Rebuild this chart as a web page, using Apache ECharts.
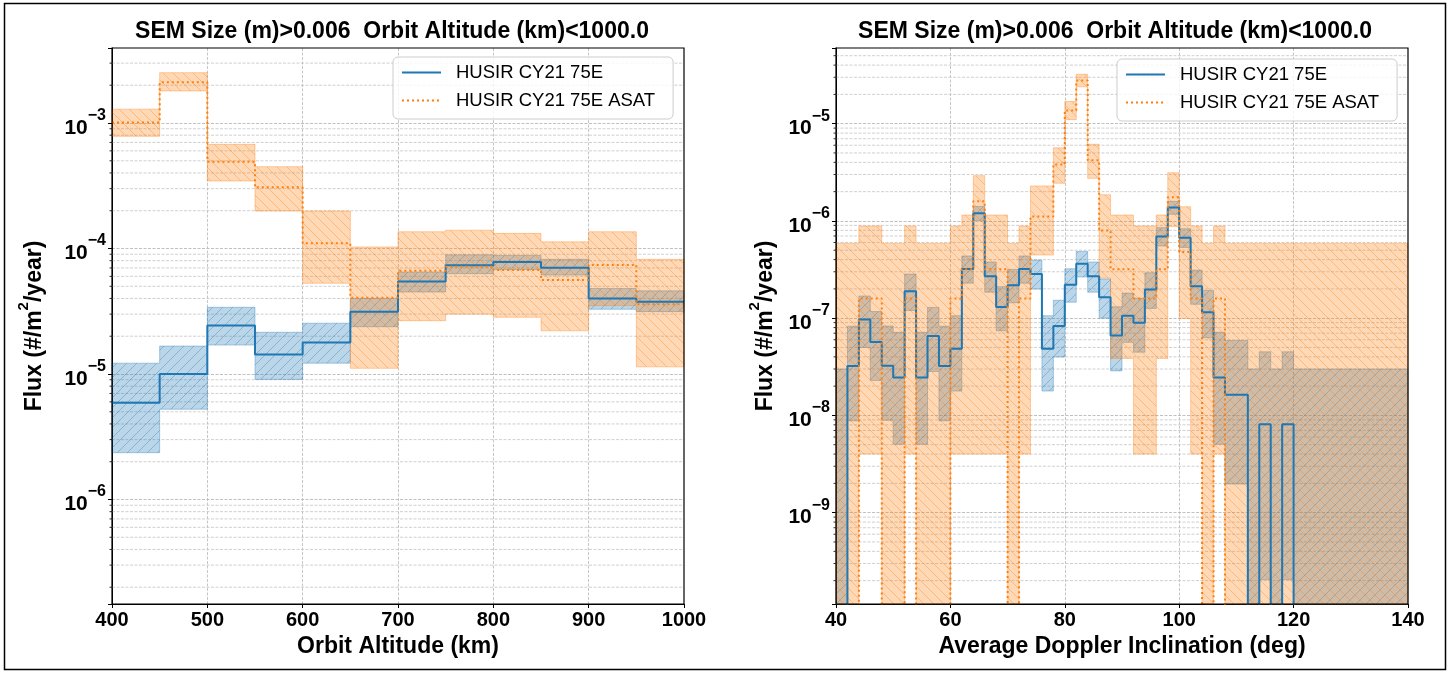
<!DOCTYPE html>
<html>
<head>
<meta charset="utf-8">
<title>SEM flux vs altitude and inclination</title>
<script src="https://cdn.jsdelivr.net/npm/echarts@6/dist/echarts.min.js"></script>
<style>
  html, body { margin: 0; padding: 0; background: #fff; }
  #chart { width: 1450px; height: 673px; }
</style>
</head>
<body>
<div id="chart"></div>
<script>
// ---------------- Panel 1: flux vs orbit altitude (50 km bins) ----------------
const altEdges = [400, 450, 500, 550, 600, 650, 700, 750, 800, 850, 900, 950, 1000];
const altFlux   = [5.9e-6, 1.0e-5, 2.43e-5, 1.43e-5, 1.78e-5, 3.14e-5, 5.45e-5, 7.35e-5, 7.8e-5, 7.03e-5, 4.0e-5, 3.77e-5];
const altFluxLo = [2.36e-6, 5.24e-6, 1.70e-5, 9.06e-6, 1.22e-5, 2.38e-5, 4.5e-5, 6.3e-5, 6.8e-5, 6.15e-5, 3.28e-5, 3.14e-5];
const altFluxHi = [1.22e-5, 1.67e-5, 3.4e-5, 2.15e-5, 2.54e-5, 4.0e-5, 6.5e-5, 8.9e-5, 8.8e-5, 8.2e-5, 4.8e-5, 4.6e-5];
const altAsat   = [1.01e-3, 2.11e-3, 4.92e-4, 3.07e-4, 1.1e-4, 4.05e-5, 6.65e-5, 7.16e-5, 6.75e-5, 5.6e-5, 7.4e-5, 3.6e-5];
const altAsatLo = [7.83e-4, 1.80e-3, 3.45e-4, 1.99e-4, 5.28e-5, 1.11e-5, 2.66e-5, 3.0e-5, 2.83e-5, 2.21e-5, 3.5e-5, 1.14e-5];
const altAsatHi = [1.29e-3, 2.52e-3, 6.76e-4, 4.49e-4, 1.99e-4, 1.03e-4, 1.36e-4, 1.40e-4, 1.32e-4, 1.13e-4, 1.36e-4, 8.2e-5];

// ---------------- Panel 2: flux vs average Doppler inclination (2 deg bins) ----------------
const incEdges = [40, 42, 44, 46, 48, 50, 52, 54, 56, 58, 60, 62, 64, 66, 68, 70, 72, 74, 76, 78,
                  80, 82, 84, 86, 88, 90, 92, 94, 96, 98, 100, 102, 104, 106, 108, 110, 112, 114, 116, 118,
                  120, 122, 124, 126, 128, 130, 132, 134, 136, 138, 140];
const incFlux = [0, 3.23e-8, 9.7e-8, 5.7e-8, 3.25e-8, 2.45e-8, 1.89e-7, 2.45e-8, 6.55e-8, 3.23e-8,
                 4.85e-8, 3.2e-7, 1.2e-6, 2.69e-7, 1.3e-7, 2.18e-7, 3.2e-7, 2.85e-7, 4.85e-8, 8.3e-8,
                 2.21e-7, 3.63e-7, 2.69e-7, 1.64e-7, 6.65e-8, 1.06e-7, 8.96e-8, 1.97e-7, 6.9e-7, 1.37e-6,
                 6.7e-7, 2.13e-7, 1.15e-7, 2.45e-8, 1.63e-8, 1.63e-8, 0, 8.1e-9, 0, 8.1e-9,
                 0, 0, 0, 0, 0, 0, 0, 0, 0, 0];
const incFluxLo = [0, 8.8e-9, 5.0e-8, 2.29e-8, 8.9e-9, 5.05e-9, 1.2e-7, 5.05e-9, 2.83e-8, 8.8e-9,
                   1.78e-8, 2.29e-7, 1.01e-6, 1.85e-7, 7.43e-8, 1.44e-7, 2.29e-7, 1.99e-7, 1.78e-8, 3.98e-8,
                   1.46e-7, 2.65e-7, 1.85e-7, 1.0e-7, 2.87e-8, 5.64e-8, 4.47e-8, 1.26e-7, 5.51e-7, 1.17e-6,
                   5.34e-7, 1.39e-7, 6.29e-8, 5.05e-9, 1.97e-9, 1.97e-9, 0, 2.05e-10, 0, 2.05e-10,
                   0, 0, 0, 0, 0, 0, 0, 0, 0, 0];
const incFluxHi = [3.0e-8, 8.27e-8, 1.69e-7, 1.17e-7, 8.32e-8, 7.16e-8, 2.84e-7, 7.16e-8, 1.29e-7, 8.27e-8,
                   1.06e-7, 4.36e-7, 1.41e-6, 3.78e-7, 2.11e-7, 3.17e-7, 4.36e-7, 3.96e-7, 1.06e-7, 1.53e-7,
                   3.22e-7, 4.86e-7, 3.78e-7, 2.53e-7, 1.31e-7, 1.81e-7, 1.60e-7, 2.93e-7, 8.53e-7, 1.59e-6,
                   8.31e-7, 3.12e-7, 1.93e-7, 7.16e-8, 5.89e-8, 5.89e-8, 3.0e-8, 4.51e-8, 3.0e-8, 4.51e-8,
                   3.0e-8, 3.0e-8, 3.0e-8, 3.0e-8, 3.0e-8, 3.0e-8, 3.0e-8, 3.0e-8, 3.0e-8, 3.0e-8];
const incAsat = [0, 0, 1.59e-7, 1.59e-7, 0, 0, 1.59e-7, 0, 0, 0,
                 1.59e-7, 3.18e-7, 1.59e-6, 3.18e-7, 3.18e-7, 0, 1.59e-7, 1.11e-6, 1.11e-6, 3.8e-6,
                 1.37e-5, 2.78e-5, 4.2e-6, 7.95e-7, 3.18e-7, 3.18e-7, 1.59e-7, 1.59e-7, 3.18e-7, 1.75e-6,
                 4.8e-7, 1.59e-7, 0, 1.59e-7, 0, 0, 0, 0, 0, 0,
                 0, 0, 0, 0, 0, 0, 0, 0, 0, 0];
const incAsatLo = [0, 0, 4.0e-9, 4.0e-9, 0, 0, 4.0e-9, 0, 0, 0,
                   4.0e-9, 4.0e-9, 4.0e-9, 4.0e-9, 4.0e-9, 0, 4.0e-9, 4.46e-7, 4.46e-7, 2.44e-6,
                   1.1e-5, 2.39e-5, 2.74e-6, 2.58e-7, 3.85e-8, 3.85e-8, 4.0e-9, 4.0e-9, 3.85e-8, 8.74e-7,
                   9.9e-8, 4.0e-9, 0, 4.0e-9, 0, 0, 0, 0, 0, 0,
                   0, 0, 0, 0, 0, 0, 0, 0, 0, 0];
const incAsatHi = [5.87e-7, 5.87e-7, 8.86e-7, 8.86e-7, 5.87e-7, 5.87e-7, 8.86e-7, 5.87e-7, 5.87e-7, 5.87e-7,
                   8.86e-7, 1.15e-6, 2.92e-6, 1.15e-6, 1.15e-6, 5.87e-7, 8.86e-7, 2.29e-6, 2.29e-6, 5.65e-6,
                   1.69e-5, 3.22e-5, 6.15e-6, 1.86e-6, 1.15e-6, 1.15e-6, 8.86e-7, 8.86e-7, 1.15e-6, 3.13e-6,
                   1.4e-6, 8.86e-7, 5.87e-7, 8.86e-7, 5.87e-7, 5.87e-7, 5.87e-7, 5.87e-7, 5.87e-7, 5.87e-7,
                   5.87e-7, 5.87e-7, 5.87e-7, 5.87e-7, 5.87e-7, 5.87e-7, 5.87e-7, 5.87e-7, 5.87e-7, 5.87e-7];

// ---------------- Labels ----------------
const TITLE = 'SEM Size (m)>0.006  Orbit Altitude (km)<1000.0';
const NAME_BASE = 'HUSIR CY21 75E';
const NAME_ASAT = 'HUSIR CY21 75E ASAT';
const ALT_XTICKS = [400, 500, 600, 700, 800, 900, 1000];
const INC_XTICKS = [40, 60, 80, 100, 120, 140];

// ---------------- Layout / style ----------------
const FONT = '"Liberation Sans", Arial, Helvetica, sans-serif';
const BLUE = '#1f77b4', ORANGE = '#ff7f0e';
const G1 = { left: 112, top: 48, width: 572, height: 556 };
const G2 = { left: 836, top: 48, width: 572, height: 556 };
const ALT_Y = [1.47e-7, 3.96e-3];
const INC_Y = [1.15e-10, 6.0e-5];
const ZERO = 1e-14; // empty bins drop below the plotted range

function hatch(rgb, dir) {
  const s = 10;
  const c = document.createElement('canvas');
  c.width = s; c.height = s;
  const g = c.getContext('2d');
  g.fillStyle = 'rgba(' + rgb + ',0.3)';
  g.fillRect(0, 0, s, s);
  g.strokeStyle = 'rgba(' + rgb + ',0.35)';
  g.lineWidth = 1;
  g.beginPath();
  if (dir === '/') {
    g.moveTo(-1, s + 1); g.lineTo(s + 1, -1);
    g.moveTo(-1, 1); g.lineTo(1, -1);
    g.moveTo(s - 1, s + 1); g.lineTo(s + 1, s - 1);
  } else {
    g.moveTo(-1, -1); g.lineTo(s + 1, s + 1);
    g.moveTo(s - 1, -1); g.lineTo(s + 1, 1);
    g.moveTo(-1, s - 1); g.lineTo(1, s + 1);
  }
  g.stroke();
  return c;
}
const BLUE_HATCH = hatch('31,119,180', '/');
const ORANGE_HATCH = hatch('255,127,14', '\\');

function stepData(edges, vals) {
  const d = vals.map((v, i) => [edges[i], v > 0 ? v : ZERO]);
  const last = vals[vals.length - 1];
  d.push([edges[edges.length - 1], last > 0 ? last : ZERO]);
  return d;
}

function bandSeries(idx, edges, lo, hi, pattern, stroke, yr) {
  const cl = v => Math.min(Math.max(v, yr[0]), yr[1]);
  return {
    type: 'custom', xAxisIndex: idx, yAxisIndex: idx, silent: true, z: 3,
    data: [[edges[0], yr[1]]],
    renderItem: (params, api) => {
      const pts = [];
      for (let i = 0; i < hi.length; i++) {
        pts.push(api.coord([edges[i], cl(hi[i])]));
        pts.push(api.coord([edges[i + 1], cl(hi[i])]));
      }
      for (let i = lo.length - 1; i >= 0; i--) {
        pts.push(api.coord([edges[i + 1], cl(lo[i])]));
        pts.push(api.coord([edges[i], cl(lo[i])]));
      }
      return { type: 'polygon', shape: { points: pts },
               style: { fill: { image: pattern, repeat: 'repeat' }, stroke: stroke, lineWidth: 1 } };
    }
  };
}

function minorValues(yr) {
  const out = [];
  for (let e = Math.floor(Math.log10(yr[0])); e <= Math.ceil(Math.log10(yr[1])); e++) {
    for (let k = 2; k <= 9; k++) {
      const v = k * Math.pow(10, e);
      if (v > yr[0] && v < yr[1]) out.push(v);
    }
  }
  return out;
}

function minorGridSeries(idx, xr, yr) {
  return {
    type: 'custom', xAxisIndex: idx, yAxisIndex: idx, silent: true, z: 1,
    data: minorValues(yr).map(v => [xr[0], v]),
    renderItem: (params, api) => {
      const v = api.value(1);
      const a = api.coord([xr[0], v]);
      const b = api.coord([xr[1], v]);
      return { type: 'group', children: [
        { type: 'line', shape: { x1: a[0], y1: a[1], x2: b[0], y2: b[1] },
          style: { stroke: '#c4c4c4', lineWidth: 0.8, lineDash: [3, 1.5] } },
        { type: 'line', shape: { x1: a[0] - 2.5, y1: a[1], x2: a[0], y2: a[1] },
          style: { stroke: '#000', lineWidth: 0.8 } }
      ] };
    }
  };
}

function powLabel(v) {
  const l = Math.log10(v);
  const e = Math.round(l);
  if (Math.abs(l - e) > 1e-6) return '';
  return '{b|10}{s|' + (e < 0 ? '\u2212' : '') + Math.abs(e) + '}';
}

function xAxisCfg(idx, min, max, step, name) {
  return {
    type: 'value', gridIndex: idx, min: min, max: max, interval: step,
    axisLine: { show: true, onZero: false, lineStyle: { color: '#000', width: 1 } },
    axisTick: { show: true, length: 4, lineStyle: { color: '#000', width: 1 } },
    axisLabel: { fontSize: 20, fontWeight: 'bold', color: '#000', fontFamily: FONT, margin: 6,
                 formatter: v => String(v) },
    splitLine: { show: true, showMinLine: false, showMaxLine: false,
                 lineStyle: { color: '#b8b8b8', width: 0.8, type: [3, 1.5] } },
    name: name, nameLocation: 'middle', nameGap: 31,
    nameTextStyle: { fontSize: 23, fontWeight: 'bold', color: '#000', fontFamily: FONT }
  };
}

function yAxisCfg(idx, yr, gap) {
  return {
    type: 'log', logBase: 10, gridIndex: idx, min: yr[0], max: yr[1],
    axisLine: { show: true, lineStyle: { color: '#000', width: 1 } },
    axisTick: { show: true, length: 4, lineStyle: { color: '#000', width: 1 } },
    axisLabel: {
      margin: 6, formatter: powLabel,
      rich: {
        b: { fontSize: 21, fontWeight: 'bold', color: '#000', fontFamily: FONT, verticalAlign: 'bottom', lineHeight: 31 },
        s: { fontSize: 16, fontWeight: 'bold', color: '#000', fontFamily: FONT, verticalAlign: 'top', lineHeight: 31 }
      }
    },
    splitLine: { show: true, showMinLine: false, showMaxLine: false,
                 lineStyle: { color: '#b0b0b0', width: 0.8, type: [3, 1.5] } },
    name: '{n|Flux (#/m}{p|2}{n|/year)}', nameLocation: 'middle', nameGap: gap,
    nameTextStyle: {
      rich: {
        n: { fontSize: 23, fontWeight: 'bold', color: '#000', fontFamily: FONT, verticalAlign: 'bottom', lineHeight: 30 },
        p: { fontSize: 15, fontWeight: 'bold', color: '#000', fontFamily: FONT, verticalAlign: 'top', lineHeight: 30 }
      }
    }
  };
}

function lineSeries(idx, name, edges, vals, color, dash) {
  return {
    name: name, type: 'line', xAxisIndex: idx, yAxisIndex: idx, step: 'end',
    data: stepData(edges, vals), symbol: 'none', showSymbol: false, clip: true, z: 5,
    itemStyle: { color: color },
    lineStyle: { color: color, width: 2, type: dash ? [2, 3] : 'solid', cap: 'butt' }
  };
}

function legendCfg(left, top) {
  return {
    left: left, top: top, orient: 'vertical', itemWidth: 39, itemHeight: 18, itemGap: 9,
    data: [NAME_BASE, NAME_ASAT], selectedMode: false,
    itemStyle: { opacity: 0 },
    backgroundColor: 'rgba(255,255,255,0.8)', borderColor: '#cccccc', borderWidth: 1, borderRadius: 5,
    padding: [6, 18, 9, 8],
    textStyle: { fontSize: 18.5, color: '#000', fontFamily: FONT, padding: [0, 0, 0, 10] }
  };
}

function frame(g) {
  return { type: 'rect', z: 100, silent: true,
           shape: { x: g.left, y: g.top, width: g.width, height: g.height },
           style: { fill: 'none', stroke: '#000', lineWidth: 1.2 } };
}

const chart = echarts.init(document.getElementById('chart'), null, { renderer: 'canvas' });
chart.setOption({
  animation: false,
  backgroundColor: '#fff',
  grid: [
    Object.assign({ containLabel: false }, G1),
    Object.assign({ containLabel: false }, G2)
  ],
  xAxis: [
    xAxisCfg(0, ALT_XTICKS[0], ALT_XTICKS[ALT_XTICKS.length - 1], ALT_XTICKS[1] - ALT_XTICKS[0], 'Orbit Altitude (km)'),
    xAxisCfg(1, INC_XTICKS[0], INC_XTICKS[INC_XTICKS.length - 1], INC_XTICKS[1] - INC_XTICKS[0], 'Average Doppler Inclination (deg)')
  ],
  yAxis: [ yAxisCfg(0, ALT_Y, 66), yAxisCfg(1, INC_Y, 59) ],
  legend: [ legendCfg(393, 57), legendCfg(1117, 59) ],
  graphic: [
    { type: 'text', x: G1.left + G1.width / 2 - 6, y: 32, silent: true,
      style: { text: TITLE, align: 'center', verticalAlign: 'middle', fill: '#000',
               font: 'bold 23px ' + FONT } },
    { type: 'text', x: G2.left + G2.width / 2 - 7, y: 32, silent: true,
      style: { text: TITLE, align: 'center', verticalAlign: 'middle', fill: '#000',
               font: 'bold 23px ' + FONT } },
    frame(G1), frame(G2),
    { type: 'rect', z: 100, silent: true, shape: { x: 4.5, y: 3.5, width: 1441, height: 666 },
      style: { fill: 'none', stroke: '#000', lineWidth: 1.5 } }
  ],
  series: [
    minorGridSeries(0, [ALT_XTICKS[0], ALT_XTICKS[ALT_XTICKS.length - 1]], ALT_Y),
    minorGridSeries(1, [INC_XTICKS[0], INC_XTICKS[INC_XTICKS.length - 1]], INC_Y),
    bandSeries(0, altEdges, altFluxLo, altFluxHi, BLUE_HATCH, 'rgba(31,119,180,0.35)', ALT_Y),
    bandSeries(0, altEdges, altAsatLo, altAsatHi, ORANGE_HATCH, 'rgba(255,127,14,0.35)', ALT_Y),
    bandSeries(1, incEdges, incFluxLo, incFluxHi, BLUE_HATCH, 'rgba(31,119,180,0.35)', INC_Y),
    bandSeries(1, incEdges, incAsatLo, incAsatHi, ORANGE_HATCH, 'rgba(255,127,14,0.35)', INC_Y),
    lineSeries(0, NAME_BASE, altEdges, altFlux, BLUE, false),
    lineSeries(0, NAME_ASAT, altEdges, altAsat, ORANGE, true),
    lineSeries(1, NAME_BASE, incEdges, incFlux, BLUE, false),
    lineSeries(1, NAME_ASAT, incEdges, incAsat, ORANGE, true)
  ]
});
</script>
</body>
</html>
